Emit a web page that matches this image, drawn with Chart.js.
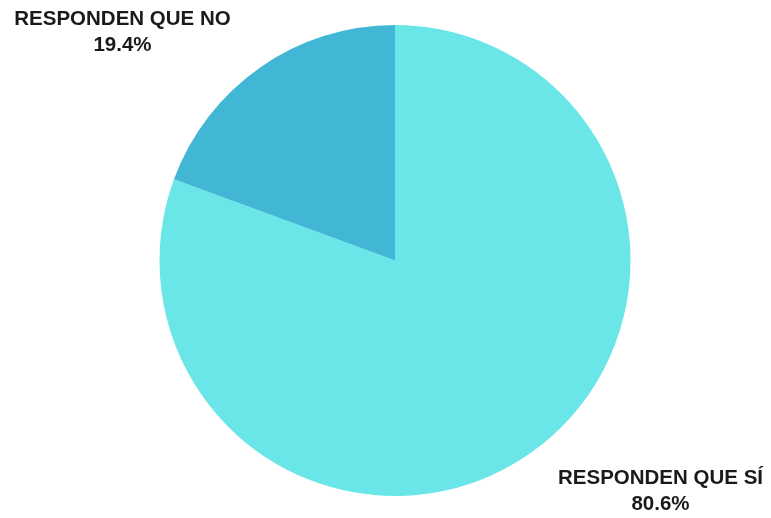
<!DOCTYPE html>
<html>
<head>
<meta charset="utf-8">
<script src="https://cdn.jsdelivr.net/npm/chart.js@4"></script>
<style>
  html, body { margin: 0; padding: 0; background: #ffffff; }
  #wrap { width: 771px; height: 518px; }
</style>
</head>
<body>
<div id="wrap"><canvas id="c" width="771" height="518"></canvas></div>
<script>
// Survey answers, share of respondents (%)
const categories = ['RESPONDEN QUE SÍ', 'RESPONDEN QUE NO'];
const values = [80.6, 19.4];
const colors = ['#6AE6E9', '#42B7D5'];

// Corner labels: category name above its percentage
const cornerLabels = {
  id: 'cornerLabels',
  afterDraw(chart) {
    const ctx = chart.ctx;
    const data = chart.data.datasets[0].data;
    const labels = chart.data.labels;
    // anchor points: index 0 bottom-right, index 1 top-left
    const anchors = [
      { x: chart.width - 110.5, y: chart.height - 40 },
      { x: 122.5, y: 19 }
    ];
    ctx.save();
    ctx.fillStyle = '#1a1a1a';
    ctx.font = 'bold 20.5px "Liberation Sans", Arial, sans-serif';
    ctx.textAlign = 'center';
    ctx.textBaseline = 'middle';
    labels.forEach((lab, i) => {
      const a = anchors[i];
      ctx.fillText(lab, a.x, a.y);
      ctx.fillText(data[i].toFixed(1) + '%', a.x, a.y + 26.5);
    });
    ctx.restore();
  }
};

new Chart(document.getElementById('c'), {
  type: 'pie',
  data: {
    labels: categories,
    datasets: [{
      data: values,
      backgroundColor: colors,
      borderWidth: 0
    }]
  },
  options: {
    responsive: false,
    animation: false,
    layout: { padding: { top: 25, bottom: 22, left: 159, right: 140 } },
    plugins: {
      legend: { display: false },
      tooltip: { enabled: false }
    }
  },
  plugins: [cornerLabels]
});
</script>
</body>
</html>
